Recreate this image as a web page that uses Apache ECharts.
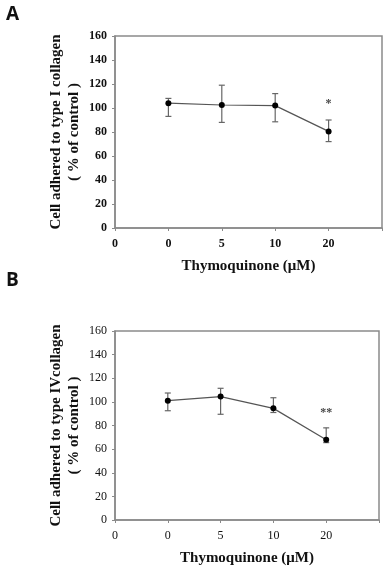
<!DOCTYPE html>
<html>
<head>
<meta charset="utf-8">
<script src="https://cdn.jsdelivr.net/npm/echarts@6/dist/echarts.min.js"></script>
<style>
  html, body { margin: 0; padding: 0; background: #fff; }
  #main { width: 385px; height: 572px; }
</style>
</head>
<body>
<div id="main"></div>
<script>
// tick labels along x (first "0" sits at the axis origin, last slot empty)
var xTickLabels = ['0', '0', '5', '10', '20', ''];
var doses = ['0', '5', '10', '20'];

// panel A: type I collagen
var meanA = [104, 102.5, 102, 80.5];
var lowA = [93, 88, 88.5, 72];
var highA = [108, 119, 112, 90];
var starA = ['', '', '', '*'];
var starYA = [null, null, null, 103];

// panel B: type IV collagen
var meanB = [101, 104.5, 94.5, 68];
var lowB = [92.5, 89.5, 91, 65.5];
var highB = [107.5, 111.5, 103.5, 78];
var starB = ['', '', '', '**'];
var starYB = [null, null, null, 90.5];

var yTicks = [0, 20, 40, 60, 80, 100, 120, 140, 160];

var chart = echarts.init(document.getElementById('main'), null, { renderer: 'canvas' });

var serif = 'Liberation Serif';
var axisGray = '#8a8a8a';

function xAxisFor(idx, bold) {
  return {
    type: 'value',
    gridIndex: idx,
    min: 0,
    max: 5,
    interval: 1,
    name: 'Thymoquinone (\u03bcM)',
    nameLocation: 'middle',
    nameGap: 31,
    nameMoveOverlap: false,
    nameTextStyle: { fontFamily: serif, fontWeight: 'bold', fontSize: 15, color: '#111' },
    axisLine: { onZero: false, lineStyle: { color: axisGray, width: 1.5 } },
    axisTick: { show: true, length: 3, inside: false, lineStyle: { color: axisGray } },
    splitLine: { show: false },
    axisLabel: {
      margin: 10,
      fontFamily: serif,
      fontSize: 12,
      fontWeight: bold ? 'bold' : 'normal',
      color: '#111',
      showMaxLabel: true,
      formatter: function (v) { return xTickLabels[Math.round(v)]; }
    }
  };
}

function yAxisFor(idx, title, bold) {
  return {
    type: 'value',
    gridIndex: idx,
    min: 0,
    max: 160,
    interval: 20,
    name: title + '\n( % of control )',
    nameLocation: 'middle',
    nameRotate: 90,
    nameGap: 32,
    nameMoveOverlap: false,
    nameTextStyle: { fontFamily: serif, fontWeight: 'bold', fontSize: 15, lineHeight: 18, color: '#111' },
    axisLine: { show: true, lineStyle: { color: axisGray, width: 1.5 } },
    axisTick: { show: true, length: 3, lineStyle: { color: axisGray } },
    splitLine: { show: false },
    axisLabel: {
      margin: 8,
      fontFamily: serif,
      fontSize: 12,
      fontWeight: bold ? 'bold' : 'normal',
      color: '#111'
    }
  };
}

function pairs(vals) {
  return vals.map(function (v, i) { return [i + 1, v]; });
}

function errorData(low, high) {
  return low.map(function (l, i) { return [i + 1, l, high[i]]; });
}

function renderError(params, api) {
  var x = api.value(0);
  var lo = api.coord([x, api.value(1)]);
  var hi = api.coord([x, api.value(2)]);
  var cap = 3;
  var style = { stroke: '#666', lineWidth: 1.2 };
  return {
    type: 'group',
    children: [
      { type: 'line', shape: { x1: hi[0], y1: hi[1], x2: lo[0], y2: lo[1] }, style: style },
      { type: 'line', shape: { x1: hi[0] - cap, y1: hi[1], x2: hi[0] + cap, y2: hi[1] }, style: style },
      { type: 'line', shape: { x1: lo[0] - cap, y1: lo[1], x2: lo[0] + cap, y2: lo[1] }, style: style }
    ]
  };
}

function starData(ys, marks) {
  var out = [];
  ys.forEach(function (y, i) {
    if (y !== null) out.push({ value: [i + 1, y], mark: marks[i] });
  });
  return out;
}

function panelSeries(idx, mean, low, high, ys, marks) {
  return [
    {
      type: 'custom',
      xAxisIndex: idx,
      yAxisIndex: idx,
      renderItem: renderError,
      data: errorData(low, high),
      z: 2
    },
    {
      type: 'line',
      xAxisIndex: idx,
      yAxisIndex: idx,
      data: pairs(mean),
      symbol: 'circle',
      symbolSize: 6,
      itemStyle: { color: '#000' },
      lineStyle: { color: '#555', width: 1.2 },
      z: 3
    },
    {
      type: 'scatter',
      xAxisIndex: idx,
      yAxisIndex: idx,
      symbolSize: 0,
      data: starData(ys, marks),
      label: {
        show: true,
        position: 'inside',
        fontFamily: serif,
        fontWeight: 'bold',
        fontSize: 12,
        color: '#111',
        formatter: function (p) { return p.data.mark; }
      }
    }
  ];
}

var option = {
  animation: false,
  backgroundColor: '#fff',
  title: [
    { text: 'A', left: 1, top: 0, textStyle: { fontFamily: 'Open Sans', fontWeight: 'bold', fontSize: 19, color: '#111' } },
    { text: 'B', left: 1, top: 266, textStyle: { fontFamily: 'Open Sans', fontWeight: 'bold', fontSize: 19, color: '#111' } }
  ],
  grid: [
    { left: 115, top: 36, width: 267, height: 192, show: true, borderColor: axisGray, borderWidth: 1.5 },
    { left: 115, top: 331, width: 264, height: 189, show: true, borderColor: axisGray, borderWidth: 1.5 }
  ],
  xAxis: [xAxisFor(0, true), xAxisFor(1, false)],
  yAxis: [
    yAxisFor(0, 'Cell adhered to type I collagen', true),
    yAxisFor(1, 'Cell adhered to type IVcollagen', false)
  ],
  series: panelSeries(0, meanA, lowA, highA, starYA, starA)
    .concat(panelSeries(1, meanB, lowB, highB, starYB, starB))
};

chart.setOption(option);
window.addEventListener('resize', chart.resize);
</script>
</body>
</html>
